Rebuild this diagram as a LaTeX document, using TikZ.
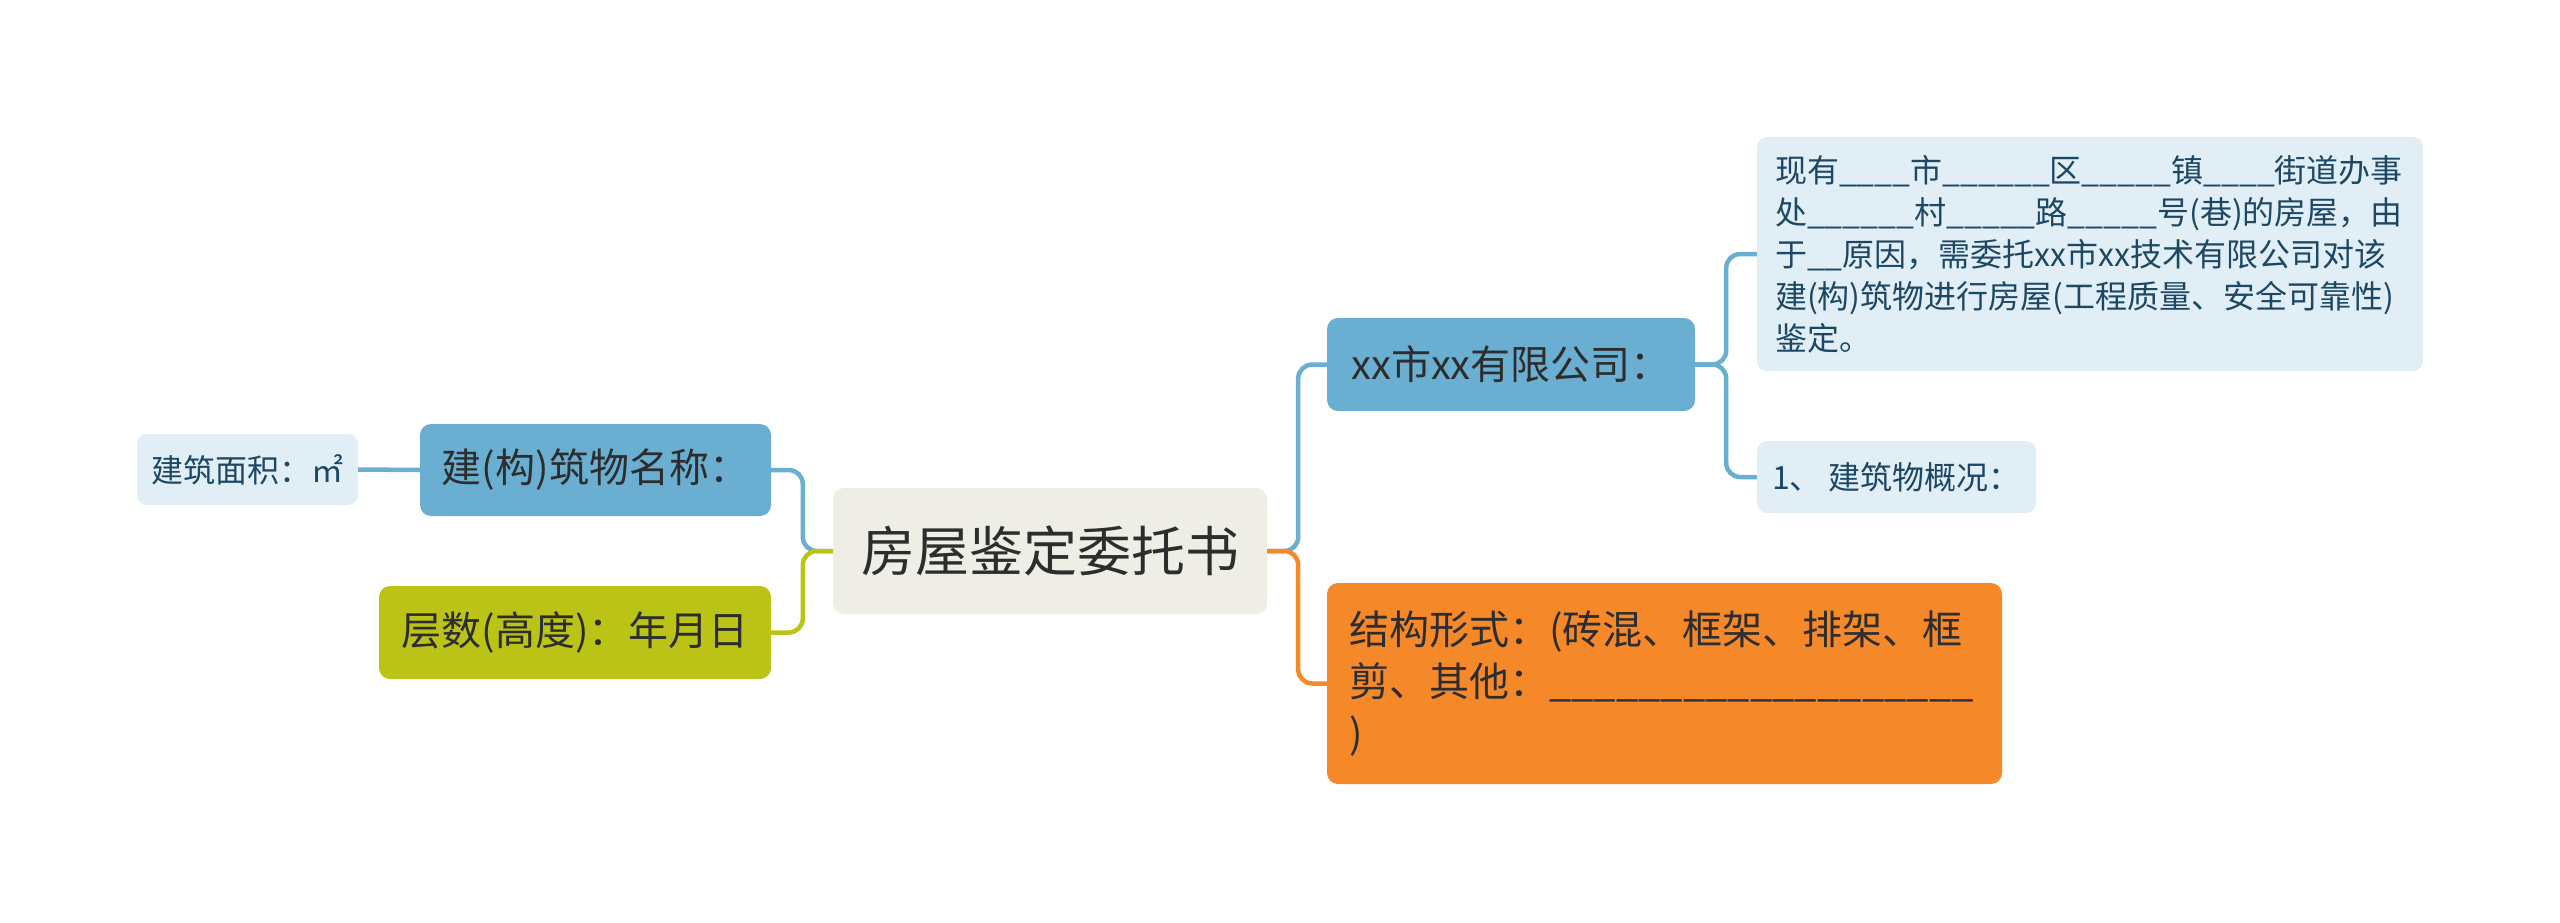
\documentclass[tikz,border=0pt]{standalone}
\usepackage{fontspec}
\setmainfont{Noto Sans CJK SC}
\definecolor{rootfill}{RGB}{238,238,230}
\definecolor{darktext}{RGB}{45,45,45}
\definecolor{bluec}{RGB}{106,174,209}
\definecolor{limec}{RGB}{187,196,22}
\definecolor{orangec}{RGB}{245,137,42}
\definecolor{leaffill}{RGB}{225,238,246}
\definecolor{leaftext}{RGB}{28,72,102}
\begin{document}
\begin{tikzpicture}[x=1pt,y=-1pt,
  box/.style={rounded corners=11pt, inner sep=0pt, align=center, text=darktext},
  rootbox/.style={box, fill=rootfill, font=\fontsize{54}{64}\selectfont},
  mainbox/.style={box, font=\fontsize{40}{52}\selectfont},
  leafbox/.style={box, fill=leaffill, text=leaftext, rounded corners=10pt, font=\fontsize{32}{42}\selectfont},
  link/.style={line width=4.5pt, rounded corners=14pt}]
\useasboundingbox (0,0) rectangle (2560,923);

\node[rootbox, minimum width=434pt, minimum height=126pt] (root) at (1050,551) {房屋鉴定委托书};

\node[mainbox, fill=bluec, minimum width=351pt, minimum height=92pt] (name) at (595.5,470) {建(构)筑物名称：};
\node[mainbox, fill=limec, minimum width=392pt, minimum height=93pt] (floors) at (575,632.5) {层数(高度)：年月日};
\node[leafbox, minimum width=221pt, minimum height=71pt] (area) at (247.5,469.5) {建筑面积：㎡};

\node[mainbox, fill=bluec, minimum width=368pt, minimum height=93pt] (company) at (1511,364.5) {xx市xx有限公司：};
\node[mainbox, fill=orangec, inner xsep=22pt, text width=631pt, align=left, minimum height=201pt] (struct) at (1664.5,683.5)
  {结构形式：(砖混、框架、排架、框\\剪、其他：\_\_\_\_\_\_\_\_\_\_\_\_\_\_\_\_\_\_\_\\)};

\node[leafbox, inner xsep=18pt, text width=630pt, align=left, minimum height=234pt] (desc) at (2090,254)
  {现有\_\_\_\_市\_\_\_\_\_\_区\_\_\_\_\_镇\_\_\_\_街道办事\\处\_\_\_\_\_\_村\_\_\_\_\_路\_\_\_\_\_号(巷)的房屋，由\\于\_\_原因，需委托xx市xx技术有限公司对该\\建(构)筑物进行房屋(工程质量、安全可靠性)\\鉴定。};
\node[leafbox, minimum width=279pt, minimum height=72pt] (survey) at (1896.5,477) {1、 建筑物概况：};

\draw[link, bluec] (root.west) -- ++(-30,0) |- (name.east);
\draw[link, limec] (root.west) -- ++(-30,0) |- (floors.east);
\draw[link, bluec] (root.east) -- ++(31,0) |- (company.west);
\draw[link, orangec] (root.east) -- ++(31,0) |- (struct.west);
\draw[link, bluec] (company.east) -- ++(31,0) |- (desc.west);
\draw[link, bluec] (company.east) -- ++(31,0) |- (survey.west);
\draw[link, bluec] (name.west) -- (area.east);
\end{tikzpicture}
\end{document}
